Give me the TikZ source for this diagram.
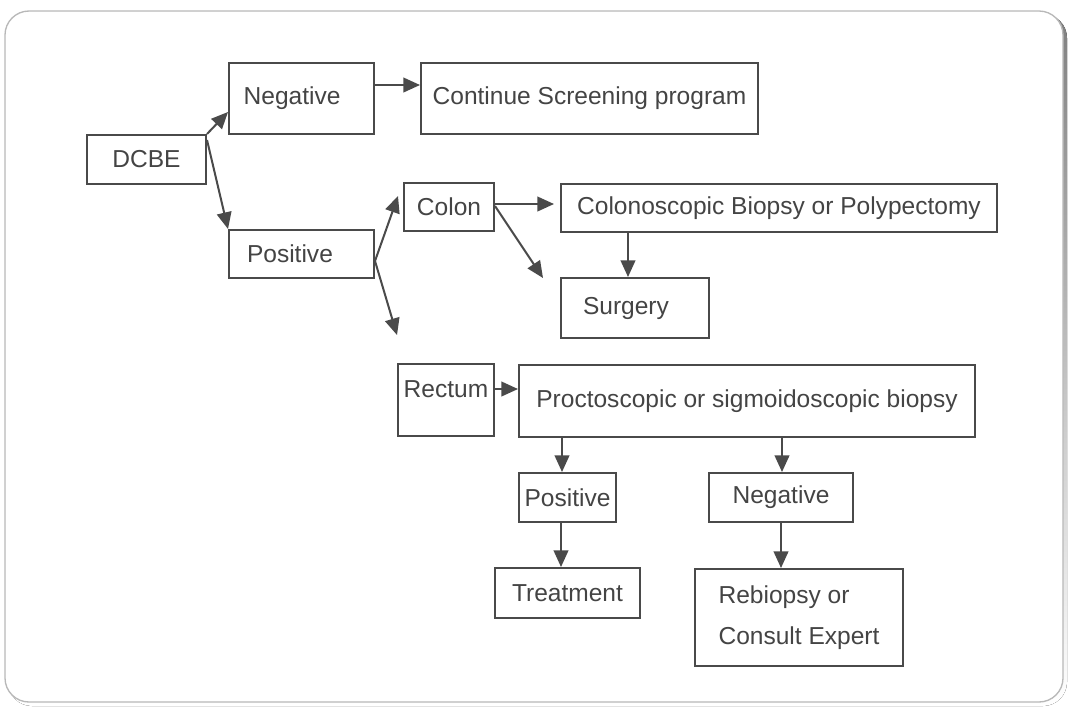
\documentclass[tikz,border=0pt]{standalone}
\usepackage{fontspec}
\setmainfont{Liberation Sans}
\usetikzlibrary{arrows.meta,positioning,calc}
\definecolor{ink}{HTML}{4A4A4A}
\definecolor{txt}{HTML}{444444}
\definecolor{rim}{HTML}{B8B8B8}
\definecolor{shade}{HTML}{5A5A5A}

\tikzset{
  box/.style 2 args={draw=ink, line width=1.5pt, text=txt, anchor=north west,
    minimum width=#1*0.75pt, minimum height=#2*0.75pt, inner sep=0pt},
  arr/.style={draw=ink, line width=1.5pt, -{Triangle[length=12.5pt,width=11pt]}},
}

\begin{document}
\begin{tikzpicture}[x=0.75pt, y=-0.75pt, font=\fontsize{18.4}{31}\selectfont]
  \useasboundingbox (0,0) rectangle (1069,708);
  % frame
  \fill[shade, rounded corners=18pt] (8,14) rectangle (1067,706);
  \draw[rim, fill=white, line width=1pt, rounded corners=18pt] (5,11) rectangle (1063,702);

  % first split
  \node[box={119}{49}] (dcbe) at (86,134) {DCBE};
  \node[box={145}{71}, text width=86.75pt, inner xsep=11pt, align=left] (neg) at (228,62) {Negative};
  \node[box={337}{71}] (screen) at (420,62) {Continue Screening program};
  \node[box={145}{48}, text width=81.75pt, inner xsep=13.5pt, align=left] (pos) at (228,229) {Positive};

  % colon branch
  \node[box={90}{48}] (colon) at (403,182) {Colon};
  \node[box={436}{48}] (colbx) at (560,183) {Colonoscopic Biopsy or Polypectomy};
  \node[box={148}{60}, text width=78pt, inner xsep=16.5pt, align=left] (surg) at (560,277) {Surgery};

  % rectum branch
  \node[box={96}{72}, text depth=16.5pt] (rect) at (397,363) {Rectum};
  \node[box={456}{72}] (proc) at (518,364) {Proctoscopic or sigmoidoscopic biopsy};
  \node[box={97}{49}] (pos2) at (518,472) {Positive};
  \node[box={144}{49}] (neg2) at (708,472) {Negative};
  \node[box={145}{50}] (treat) at (494,567) {Treatment};
  \node[box={208}{97}, align=left] (rebio) at (694,568) {Rebiopsy or\\Consult Expert};

  \coordinate (pdown) at (397,335);
  \coordinate (cdown) at (543,278);

  \draw[arr] (dcbe.north east) -- ($(neg.south west)+(0,-23)$);
  \draw[arr] ($(dcbe.north east)+(0,6)$) -- (pos.north west);
  \draw[arr] ($(neg.north east)+(0,23)$) -- ($(screen.north west)+(0,23)$);
  \draw[arr] ($(pos.east)+(0,7)$) -- ($(colon.west)+(-5,-11)$);
  \draw[arr] ($(pos.east)+(0,7)$) -- (pdown);
  \draw[arr] ($(colon.east)+(0,-3)$) -- ($(colbx.west)+(-6,-4)$);
  \draw[arr] ($(colon.east)+(0,-1)$) -- (cdown);
  \draw[arr] ($(colbx.south west)+(68,0)$) -- ($(surg.north west)+(68,0)$);
  \draw[arr] ($(rect.north east)+(0,26)$) -- ($(proc.north west)+(0,25)$);
  \draw[arr] ($(proc.south west)+(44,0)$) -- ($(pos2.north west)+(44,0)$);
  \draw[arr] ($(proc.south west)+(264,0)$) -- ($(neg2.north west)+(74,0)$);
  \draw[arr] ($(pos2.south west)+(43,0)$) -- ($(treat.north west)+(67,0)$);
  \draw[arr] ($(neg2.south west)+(73,0)$) -- ($(rebio.north west)+(87,0)$);
\end{tikzpicture}
\end{document}
